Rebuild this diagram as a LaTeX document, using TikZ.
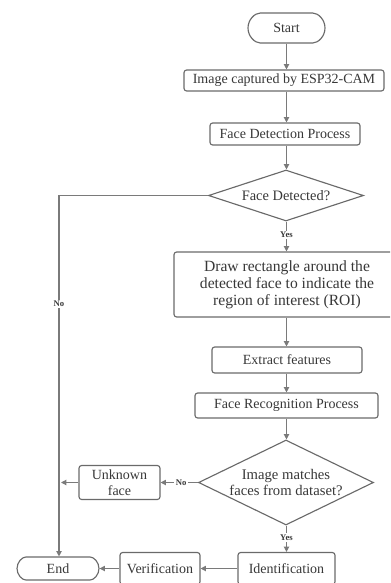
\documentclass[tikz,border=0pt]{standalone}
\usepackage{fontspec}
\setmainfont{Liberation Serif}
\usetikzlibrary{shapes.geometric,shapes.misc,arrows.meta}
\definecolor{boxgray}{HTML}{6A6A6A}
\definecolor{linegray}{HTML}{7A7A7A}
\definecolor{txtgray}{HTML}{383838}
\begin{document}
\begin{tikzpicture}[x=0.75pt,y=-0.75pt,
  box/.style={draw=boxgray, line width=0.85pt, rounded corners=2pt, fill=white, inner sep=0pt,
    align=center, text=txtgray, font=\fontsize{10.5}{12.5}\selectfont},
  term/.style={box, rounded rectangle},
  dia/.style={draw=boxgray, line width=0.85pt, diamond, inner sep=0pt, fill=white},
  diatext/.style={align=center, text=txtgray, font=\fontsize{10.8}{12.5}\selectfont},
  conn/.style={draw=linegray, line width=0.85pt, -{Triangle[length=4pt,width=4pt]}},
  lbl/.style={fill=white, inner sep=1pt, text=txtgray, font=\fontsize{6.5}{7.5}\bfseries\selectfont}
]
\useasboundingbox (0,0) rectangle (390,583);
\clip (0,0) rectangle (390,583);
\fill[white] (0,0) rectangle (390,583);

\coordinate (col) at (286.5,0);
\node[term, minimum width=77*0.75pt, minimum height=30*0.75pt] (start) at (286.5,28) {Start};
\node[box, minimum width=200*0.75pt, minimum height=21*0.75pt] (img) at (284,80.5) {Image captured by ESP32-CAM};
\node[box, minimum width=150*0.75pt, minimum height=22*0.75pt] (fdp) at (285,134) {Face Detection Process};
\node[dia, minimum width=155*0.75pt, minimum height=51*0.75pt,
  label={[diatext]center:Face Detected?}] (d1) at (286,195.5) {};
\node[box, minimum width=226*0.75pt, minimum height=65*0.75pt, font=\fontsize{11.7}{12.9}\selectfont] (roi) at (287,284.5)
  {Draw rectangle around the\\detected face to indicate the\\region of interest (ROI)};
\node[box, minimum width=150*0.75pt, minimum height=26*0.75pt] (ext) at (287,360) {Extract features};
\node[box, minimum width=183*0.75pt, minimum height=25*0.75pt] (frp) at (286.5,405.5) {Face Recognition Process};
\node[dia, minimum width=175*0.75pt, minimum height=85*0.75pt,
  label={[diatext, font=\fontsize{11}{12.5}\selectfont]center:Image matches\\faces from dataset?}] (d2) at (286,482.5) {};
\node[box, minimum width=81*0.75pt, minimum height=34*0.75pt, font=\fontsize{10.5}{12}\selectfont] (unk) at (119.5,482.5) {Unknown\\face};
\node[box, minimum width=97*0.75pt, minimum height=32*0.75pt] (idf) at (286.5,568.5) {Identification};
\node[box, minimum width=80*0.75pt, minimum height=32*0.75pt] (ver) at (160,568.5) {Verification};
\node[term, minimum width=82*0.75pt, minimum height=23*0.75pt] (end) at (58,568.5) {End};

\coordinate (nocorner) at (59,195.5);
\coordinate (unkhit) at (61,482.5);

\draw[conn] (col |- start.south) -- (col |- img.north);
\draw[conn] (col |- img.south) -- (col |- fdp.north);
\draw[conn] (col |- fdp.south) -- (col |- d1.north);
\draw[conn] (col |- d1.south) -- node[lbl, pos=0.45] {Yes} (col |- roi.north);
\draw[conn] (col |- roi.south) -- (col |- ext.north);
\draw[conn] (col |- ext.south) -- (col |- frp.north);
\draw[conn] (col |- frp.south) -- (col |- d2.north);
\draw[conn] (d2.west) -- node[lbl, pos=0.45] {No} (unk.east);
\draw[conn] (unk.west) -- (unkhit);
\draw[conn] (d1.west) -- (nocorner) -- node[lbl, pos=0.3] {No} (nocorner |- end.north);
\draw[conn] (col |- d2.south) -- node[lbl, pos=0.45] {Yes} (col |- idf.north);
\draw[conn] (idf.west) -- (ver.east);
\draw[conn] (ver.west) -- (end.east);
\end{tikzpicture}
\end{document}
